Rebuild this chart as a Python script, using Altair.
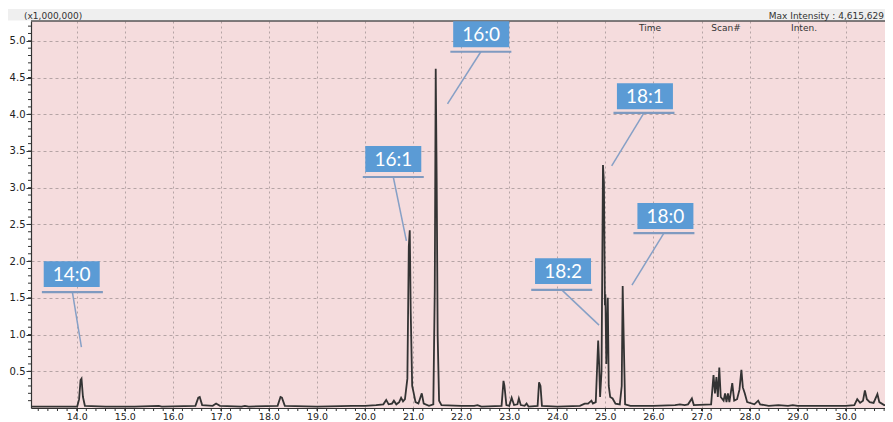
import altair as alt
import pandas as pd

# ---- chromatogram trace (retention time in min, intensity in x1,000,000) ----
trace_time = [13.05, 13.60, 14.01, 14.05, 14.08, 14.10, 14.13, 14.17, 14.60, 15.20,
              15.71, 15.77, 16.47, 16.53, 16.56, 16.61, 16.83, 16.90, 16.98, 17.43,
              17.50, 17.58, 18.18, 18.24, 18.27, 18.33, 19.00, 19.73, 20.00, 20.23,
              20.38, 20.44, 20.49, 20.56, 20.60, 20.65, 20.71, 20.75, 20.79, 20.83,
              20.88, 20.91, 20.93, 20.95, 20.98, 21.01, 21.05, 21.11, 21.18, 21.22,
              21.33, 21.42, 21.45, 21.47, 21.49, 21.51, 21.54, 21.59, 22.00, 22.27,
              22.34, 22.42, 22.84, 22.88, 22.90, 22.94, 23.00, 23.05, 23.10, 23.17,
              23.20, 23.24, 23.32, 23.36, 23.40, 23.59, 23.62, 23.65, 23.68, 24.00,
              24.47, 24.57, 24.64, 24.71, 24.74, 24.80, 24.85, 24.87, 24.89, 24.92,
              24.95, 24.97, 24.99, 25.00, 25.02, 25.05, 25.07, 25.10, 25.15, 25.21,
              25.30, 25.34, 25.36, 25.38, 25.41, 25.52, 26.00, 26.45, 26.55, 26.65,
              26.72, 26.80, 26.84, 27.20, 27.25, 27.28, 27.31, 27.34, 27.37, 27.40,
              27.46, 27.49, 27.52, 27.55, 27.58, 27.64, 27.68, 27.74, 27.79, 27.83,
              27.86, 27.90, 27.95, 28.10, 28.18, 28.22, 28.40, 28.60, 28.80, 28.90,
              29.00, 29.50, 30.00, 30.18, 30.24, 30.30, 30.36, 30.40, 30.44, 30.50,
              30.58, 30.66, 30.70, 30.80, 30.96]
trace_intensity = [0.02, 0.02, 0.02, 0.12, 0.38, 0.40, 0.15, 0.03, 0.02, 0.02,
                   0.03, 0.02, 0.03, 0.14, 0.15, 0.04, 0.03, 0.06, 0.03, 0.02,
                   0.03, 0.02, 0.03, 0.15, 0.14, 0.03, 0.02, 0.03, 0.03, 0.04,
                   0.05, 0.11, 0.05, 0.06, 0.10, 0.05, 0.08, 0.14, 0.09, 0.12,
                   0.40, 2.20, 2.42, 1.30, 0.30, 0.21, 0.08, 0.06, 0.20, 0.06,
                   0.03, 0.05, 1.60, 4.62, 3.10, 1.00, 0.10, 0.04, 0.03, 0.03,
                   0.04, 0.02, 0.03, 0.37, 0.30, 0.04, 0.03, 0.14, 0.04, 0.05,
                   0.13, 0.04, 0.03, 0.06, 0.02, 0.03, 0.35, 0.30, 0.03, 0.02,
                   0.03, 0.06, 0.06, 0.10, 0.06, 0.08, 0.92, 0.60, 0.15, 0.50,
                   3.31, 3.07, 1.40, 1.55, 0.60, 1.50, 0.30, 0.15, 0.13, 0.06,
                   0.05, 0.30, 1.66, 1.00, 0.05, 0.03, 0.03, 0.04, 0.05, 0.04,
                   0.05, 0.13, 0.04, 0.05, 0.45, 0.20, 0.42, 0.15, 0.55, 0.15,
                   0.10, 0.20, 0.08, 0.20, 0.08, 0.34, 0.10, 0.12, 0.25, 0.52,
                   0.28, 0.20, 0.08, 0.05, 0.10, 0.05, 0.03, 0.04, 0.03, 0.04,
                   0.03, 0.03, 0.03, 0.04, 0.12, 0.07, 0.10, 0.24, 0.12, 0.08,
                   0.07, 0.19, 0.08, 0.04, 0.04]

# ---- peak annotations ----
ann_label = ["14:0", "16:1", "16:0", "18:2", "18:1", "18:0"]
ann_box_t = [13.896, 20.587, 22.416, 24.119, 25.823, 26.249]
ann_box_v = [1.823, 3.391, 5.089, 1.864, 4.244, 2.614]
ann_line_t = [13.910, 20.587, 22.409, 24.092, 25.803, 26.218]
ann_line_v = [1.578, 3.146, 4.851, 1.609, 4.018, 2.382]
ann_peak_t = [14.098, 20.860, 21.715, 24.868, 25.131, 25.553]
ann_peak_v = [0.828, 2.277, 4.141, 1.128, 3.296, 1.673]

# ---- axes ----
x_major = [14.0, 15.0, 16.0, 17.0, 18.0, 19.0, 20.0, 21.0, 22.0, 23.0, 24.0,
           25.0, 26.0, 27.0, 28.0, 29.0, 30.0]
y_major = [0.5, 1.0, 1.5, 2.0, 2.5, 3.0, 3.5, 4.0, 4.5, 5.0]
x_minor = [round(13.2 + 0.2 * i, 1) for i in range(89)]
y_minor = [round(0.1 * i, 1) for i in range(1, 53)]
x_domain = [13.049, 30.818]
y_domain = [0.0, 5.27]

header_text = ["Time", "Scan#", "Inten."]
header_px = [619, 695, 773]

W, H = 854, 387
FONT = "DejaVu Sans"

trace_df = pd.DataFrame({"time": trace_time, "inten": trace_intensity})
ann_df = pd.DataFrame({"label": ann_label, "bt": ann_box_t, "bv": ann_box_v,
                       "lt": ann_line_t, "lv": ann_line_v,
                       "pt": ann_peak_t, "pv": ann_peak_v})
one = pd.DataFrame({"a": [0]})

xs = alt.Scale(domain=x_domain, nice=False, zero=False)
ys = alt.Scale(domain=y_domain, nice=False, zero=False)

trace = alt.Chart(trace_df).mark_line(
    color="#333333", strokeWidth=1.8, clip=True
).encode(
    x=alt.X("time:Q", scale=xs, axis=alt.Axis(
        values=x_major, format=".1f", title=None, grid=True,
        gridColor="#b5a4a5", gridDash=[2, 3], gridWidth=1,
        tickSize=3, tickColor="#333", domainColor="#333", domainWidth=1.2,
        labelFont=FONT, labelFontSize=9.5, labelColor="#222", labelPadding=0,
        labelOverlap=False, labelFlush=False)),
    y=alt.Y("inten:Q", scale=ys, axis=alt.Axis(
        values=y_major, format=".1f", title=None, grid=True,
        gridColor="#b5a4a5", gridDash=[3, 3], gridWidth=1,
        tickSize=5, tickColor="#333", domainColor="#333", domainWidth=1.2,
        labelFont=FONT, labelFontSize=10, labelColor="#222", labelPadding=1,
        labelOverlap=False, labelFlush=False)),
)

xminor = alt.Chart(pd.DataFrame({"time": x_minor})).mark_rule(
    color="#333", strokeWidth=1
).encode(x=alt.X("time:Q", scale=xs), y=alt.value(H), y2=alt.value(H + 3))

yminor = alt.Chart(pd.DataFrame({"inten": y_minor})).mark_rule(
    color="#333", strokeWidth=1
).encode(y=alt.Y("inten:Q", scale=ys), x=alt.value(-3), x2=alt.value(0))

band = alt.Chart(one).mark_rect(color="#efefef").encode(
    x=alt.value(-23), x2=alt.value(W), y=alt.value(-12), y2=alt.value(-0.5))

top_border = alt.Chart(one).mark_rule(color="#555", strokeWidth=1.3).encode(
    x=alt.value(0), x2=alt.value(W), y=alt.value(0))

scale_txt = alt.Chart(one).mark_text(
    align="left", baseline="middle", font=FONT, fontSize=9, color="#333"
).encode(x=alt.value(-7), y=alt.value(-5), text=alt.value("(x1,000,000)"))

max_txt = alt.Chart(one).mark_text(
    align="right", baseline="middle", font=FONT, fontSize=9, color="#333"
).encode(x=alt.value(W - 1), y=alt.value(-5),
         text=alt.value("Max Intensity : 4,615,629"))

hdr_layers = [
    alt.Chart(one).mark_text(
        align="center", baseline="middle", font=FONT, fontSize=9, color="#333"
    ).encode(x=alt.value(px), y=alt.value(7), text=alt.value(tx))
    for tx, px in zip(header_text, header_px)
]

leaders = alt.Chart(ann_df).mark_rule(color="#86a0c6", strokeWidth=1.5).encode(
    x=alt.X("lt:Q", scale=xs), x2="pt:Q",
    y=alt.Y("lv:Q", scale=ys), y2="pv:Q")

underline = alt.Chart(ann_df).mark_point(
    shape="M-1,-0.035L1,-0.035L1,0.035L-1,0.035Z", size=61 * 61,
    filled=True, opacity=1, color="#7f9ac0", strokeWidth=0
).encode(x=alt.X("lt:Q", scale=xs), y=alt.Y("lv:Q", scale=ys))

boxes = alt.Chart(ann_df).mark_point(
    shape="M-1,-0.464L1,-0.464L1,0.464L-1,0.464Z", size=56 * 56,
    filled=True, opacity=1, color="#5b9bd5", strokeWidth=0
).encode(x=alt.X("bt:Q", scale=xs), y=alt.Y("bv:Q", scale=ys))

labels = alt.Chart(ann_df).mark_text(
    font="Lato", fontSize=19, color="white", baseline="middle", align="center", dy=1
).encode(x=alt.X("bt:Q", scale=xs), y=alt.Y("bv:Q", scale=ys), text="label:N")

chart = alt.layer(
    trace, band, top_border, xminor, yminor, scale_txt, max_txt, *hdr_layers,
    leaders, underline, boxes, labels
).properties(
    width=W, height=H,
    autosize=alt.AutoSizeParams(type="none"),
    padding={"left": 23, "top": 13, "right": 0, "bottom": 14},
    background="white",
).configure_view(fill="#f5dcdd", stroke=None)

chart.save("out.html", embed_options={"renderer": "svg", "actions": False})
